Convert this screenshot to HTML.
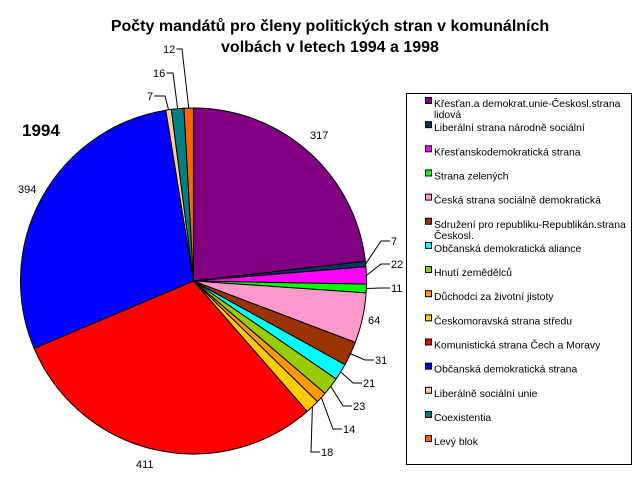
<!DOCTYPE html>
<html><head><meta charset="utf-8"><style>
body{margin:0;background:#fff;}
svg{display:block;font-family:"Liberation Sans",Arial,sans-serif;}
</style></head><body>
<svg id="s" width="639" height="499" xmlns="http://www.w3.org/2000/svg">
<rect width="639" height="499" fill="#fff"/>
<text x="330" y="31" font-size="16" font-weight="bold" text-anchor="middle">Počty mandátů pro členy politických stran v komunálních</text>
<text x="330" y="52" font-size="16" font-weight="bold" text-anchor="middle">volbách v letech 1994 a 1998</text>
<text x="22" y="136" font-size="17" font-weight="bold">1994</text>
<g id="pie"></g>
<g id="lab" font-size="11"></g>
<rect x="406.5" y="93.5" width="225" height="371" fill="#fff" stroke="#000"/>
<g id="leg" font-size="10.4"></g>
</svg>
<script>
var v=[317,7,22,11,64,31,21,23,14,18,411,394,7,16,12];
var c=["#800080","#003366","#FF00FF","#00FF00","#FF99CC","#993300","#00FFFF","#99CC00","#FF9900","#FFCC00","#FF0000","#0000FF","#FFCC99","#008080","#FF6600"];
var n=["Křesťan.a demokrat.unie-Českosl.strana|lidová","Liberální strana národně sociální","Křesťanskodemokratická strana","Strana zelených","Česká strana sociálně demokratická","Sdružení pro republiku-Republikán.strana|Českosl.","Občanská demokratická aliance","Hnutí zemědělců","Důchodci za životní jistoty","Českomoravská strana středu","Komunistická strana Čech a Moravy","Občanská demokratická strana","Liberálně sociální unie","Coexistentia","Levý blok"];
var cx=193.5,cy=281,r=173,tot=0;v.forEach(function(x){tot+=x});
var NS="http://www.w3.org/2000/svg",a=-Math.PI/2,pie=document.getElementById("pie"),lab=document.getElementById("lab"),leg=document.getElementById("leg");
function el(t,at,p,txt){var e=document.createElementNS(NS,t);for(var k in at)e.setAttribute(k,at[k]);if(txt)e.textContent=txt;p.appendChild(e);return e;}
var L=[[310,139,"start"],[391,245,"start",381,241],[391,268,"start",381,264],[391,292,"start",381,288],[368,324,"start"],[375,364,"start",365,360],[363,387,"start",353,383],[353,410,"start",343,406],[343,433,"start",333,429],[321,456,"start",311,452],[136,468,"start"],[18,193,"start"],[147,100,"start",165,96],[153,77,"start",173,73],[163,53,"start",182,49]];
var mids=[];
v.forEach(function(x,i){var b=a+x/tot*2*Math.PI;var x1=cx+r*Math.cos(a),y1=cy+r*Math.sin(a),x2=cx+r*Math.cos(b),y2=cy+r*Math.sin(b);
el("path",{d:"M"+cx+","+cy+"L"+x1+","+y1+"A"+r+","+r+" 0 "+((b-a)>Math.PI?1:0)+" 1 "+x2+","+y2+"Z",fill:c[i],stroke:"#000","stroke-width":"1"},pie);
mids.push((a+b)/2);a=b;});
L.forEach(function(l,i){el("text",{x:l[0],y:l[1],"text-anchor":l[2]},lab,String(v[i]));
if(l[3]!==undefined){var m=mids[i],ex=cx+r*Math.cos(m),ey=cy+r*Math.sin(m);var pts;
if(i>=12){var w=(String(v[i]).length*6.2);pts=(l[0]+w+1)+","+l[4]+" "+l[3]+","+l[4]+" "+ex+","+ey;}
else pts=ex+","+ey+" "+l[3]+","+l[4]+" "+(l[0]-1)+","+l[4];
el("polyline",{points:pts,fill:"none",stroke:"#000","stroke-width":"1"},lab);}});
n.forEach(function(s,i){var y=103+i*24.15;el("rect",{x:425.5,y:y-5.5,width:6,height:6,fill:c[i],stroke:"#000"},leg);
var p=s.split("|");el("text",{x:434,y:y+4},leg,p[0]);if(p[1])el("text",{x:434,y:y+15},leg,p[1]);});
</script>
</body></html>
